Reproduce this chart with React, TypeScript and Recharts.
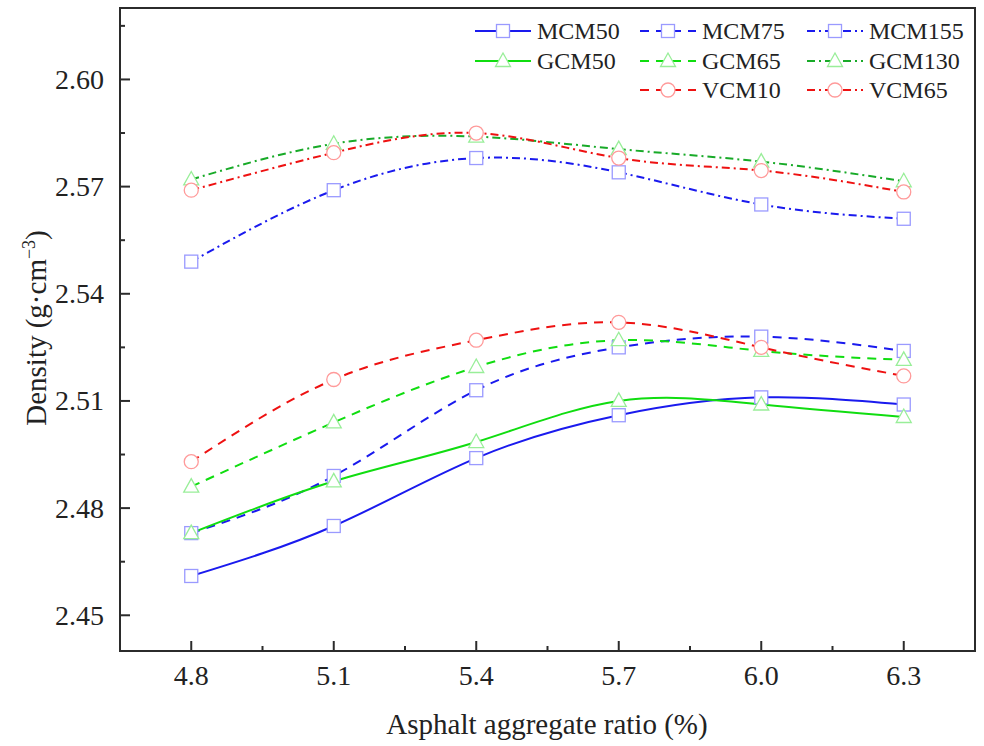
import React from 'react';
import { LineChart, Line, XAxis, YAxis, ReferenceArea } from 'recharts';

// asphalt aggregate ratio (%)
const ratios = [4.8, 5.1, 5.4, 5.7, 6.0, 6.3];

// density (g·cm-3)
const mcm50 = [2.461, 2.475, 2.494, 2.506, 2.511, 2.509];
const mcm75 = [2.473, 2.489, 2.513, 2.525, 2.528, 2.524];
const mcm155 = [2.549, 2.569, 2.578, 2.574, 2.565, 2.561];
const gcm50 = [2.473, 2.4875, 2.4985, 2.51, 2.509, 2.5055];
const gcm65 = [2.486, 2.504, 2.5195, 2.527, 2.524, 2.5215];
const gcm130 = [2.572, 2.582, 2.584, 2.5805, 2.577, 2.5715];
const vcm10 = [2.493, 2.516, 2.527, 2.532, 2.525, 2.517];
const vcm65 = [2.569, 2.5795, 2.585, 2.578, 2.5745, 2.5685];

const xMajorTicks = [4.8, 5.1, 5.4, 5.7, 6.0, 6.3];
const xMinorTicks = [4.95, 5.25, 5.55, 5.85, 6.15];
const yMajorTicks = [2.45, 2.48, 2.51, 2.54, 2.57, 2.6];
const yMinorTicks = [2.465, 2.495, 2.525, 2.555, 2.585, 2.615];

const FONT = '"Liberation Serif", "Times New Roman", serif';
const AXIS = '#2b2b2b';

type Shape = 'square' | 'triangle' | 'circle';

const series = [
  { name: 'MCM50', values: mcm50, color: '#1a1aee', marker: '#9a9aff', dash: undefined, shape: 'square' as Shape },
  { name: 'MCM75', values: mcm75, color: '#1a1aee', marker: '#9a9aff', dash: '9 7', shape: 'square' as Shape },
  { name: 'MCM155', values: mcm155, color: '#1a1aee', marker: '#9a9aff', dash: '8 4 2 4', shape: 'square' as Shape },
  { name: 'GCM50', values: gcm50, color: '#10dd10', marker: '#99ee99', dash: undefined, shape: 'triangle' as Shape },
  { name: 'GCM65', values: gcm65, color: '#10dd10', marker: '#99ee99', dash: '9 7', shape: 'triangle' as Shape },
  { name: 'GCM130', values: gcm130, color: '#18aa28', marker: '#99ee99', dash: '8 4 2 4', shape: 'triangle' as Shape },
  { name: 'VCM10', values: vcm10, color: '#ee1111', marker: '#ff9a9a', dash: '9 7', shape: 'circle' as Shape },
  { name: 'VCM65', values: vcm65, color: '#ee1111', marker: '#ff9a9a', dash: '8 4 2 4', shape: 'circle' as Shape },
];

const data = ratios.map((r, i) => {
  const row: Record<string, number> = { ratio: r };
  series.forEach((s) => (row[s.name] = s.values[i]));
  return row;
});

// legend grid: [row, col] per series
const legendSlots: Record<string, [number, number]> = {
  MCM50: [0, 0], MCM75: [0, 1], MCM155: [0, 2],
  GCM50: [1, 0], GCM65: [1, 1], GCM130: [1, 2],
  VCM10: [2, 1], VCM65: [2, 2],
};
const legendRowY = [31, 61, 90];
const legendColX = [475, 640, 807];

const Marker = ({ cx, cy, shape, color }: { cx: number; cy: number; shape: Shape; color: string }) => {
  if (cx == null || cy == null) return null;
  if (shape === 'square') {
    return <rect x={cx - 6.5} y={cy - 6.5} width={13} height={13} fill="#fff" stroke={color} strokeWidth={1.3} />;
  }
  if (shape === 'triangle') {
    return (
      <polygon
        points={`${cx},${cy - 8} ${cx - 7.5},${cy + 5.5} ${cx + 7.5},${cy + 5.5}`}
        fill="#fff"
        stroke={color}
        strokeWidth={1.3}
      />
    );
  }
  return <circle cx={cx} cy={cy} r={7} fill="#fff" stroke={color} strokeWidth={1.3} />;
};

const XTick = ({ x, y, payload }: any) => {
  const major = xMajorTicks.includes(payload.value);
  return (
    <g>
      <line x1={x} y1={y} x2={x} y2={y - (major ? 10 : 5)} stroke={AXIS} strokeWidth={2} />
      {major && (
        <text x={x} y={y + 34} textAnchor="middle" fontSize={28} fontFamily={FONT} fill="#222">
          {payload.value.toFixed(1)}
        </text>
      )}
    </g>
  );
};

const YTick = ({ x, y, payload }: any) => {
  const major = yMajorTicks.includes(payload.value);
  return (
    <g>
      <line x1={x} y1={y} x2={x + (major ? 10 : 5)} y2={y} stroke={AXIS} strokeWidth={2} />
      {major && (
        <text x={x - 16} y={y} dy="0.34em" textAnchor="end" fontSize={28} fontFamily={FONT} fill="#222">
          {payload.value.toFixed(2)}
        </text>
      )}
    </g>
  );
};

const XTitle = () => (
  <text x={547} y={734} textAnchor="middle" fontSize={29} fontFamily={FONT} fill="#222">
    Asphalt aggregate ratio (%)
  </text>
);

const YTitle = () => (
  <text
    x={46}
    y={328}
    textAnchor="middle"
    transform="rotate(-90 46 328)"
    fontSize={29}
    fontFamily={FONT}
    fill="#222"
  >
    Density (g·cm
    <tspan dy={-11} fontSize={18}>−3</tspan>
    <tspan dy={11}>)</tspan>
  </text>
);

const LegendOverlay = () => (
  <svg width={984} height={120} style={{ position: 'absolute', left: 0, top: 0, pointerEvents: 'none' }}>
    {series.map((s) => {
      const [row, col] = legendSlots[s.name];
      const x = legendColX[col];
      const y = legendRowY[row];
      return (
        <g key={s.name}>
          <line x1={x} y1={y} x2={x + 56} y2={y} stroke={s.color} strokeWidth={2} strokeDasharray={s.dash} />
          <Marker cx={x + 28} cy={y} shape={s.shape} color={s.marker} />
          <text x={x + 62} y={y} dy="0.34em" fontSize={24} fontFamily={FONT} fill="#222">
            {s.name}
          </text>
        </g>
      );
    })}
  </svg>
);

export default function App() {
  return (
    <div style={{ position: 'absolute', left: 0, top: 0, width: 984, height: 746, background: '#fff' }}>
      <LineChart width={984} height={746} data={data} margin={{ top: 8, right: 9, bottom: 0, left: 0 }}>
        <XAxis
          dataKey="ratio"
          type="number"
          domain={[4.65, 6.45]}
          ticks={[...xMajorTicks, ...xMinorTicks].sort((a, b) => a - b)}
          interval={0}
          height={95}
          tickSize={0}
          tickMargin={0}
          tickLine={false}
          axisLine={{ stroke: AXIS, strokeWidth: 2 }}
          tick={<XTick />}
          label={{ content: XTitle }}
        />
        <YAxis
          type="number"
          domain={[2.44, 2.62]}
          allowDataOverflow
          ticks={[...yMajorTicks, ...yMinorTicks].sort((a, b) => a - b)}
          interval={0}
          width={120}
          tickSize={0}
          tickMargin={0}
          tickLine={false}
          axisLine={{ stroke: AXIS, strokeWidth: 2 }}
          tick={<YTick />}
          label={{ content: YTitle }}
        />
        <ReferenceArea x1={4.65} x2={6.45} y1={2.44} y2={2.62} fill="none" stroke={AXIS} strokeWidth={2} />
        {series.map((s) => (
          <Line
            key={s.name}
            dataKey={s.name}
            name={s.name}
            type="natural"
            stroke={s.color}
            strokeWidth={2}
            strokeDasharray={s.dash}
            isAnimationActive={false}
            activeDot={false}
            dot={(p: any) => (
              <Marker key={`${s.name}-${p.index}`} cx={p.cx} cy={p.cy} shape={s.shape} color={s.marker} />
            )}
          />
        ))}
      </LineChart>
      <LegendOverlay />
    </div>
  );
}
